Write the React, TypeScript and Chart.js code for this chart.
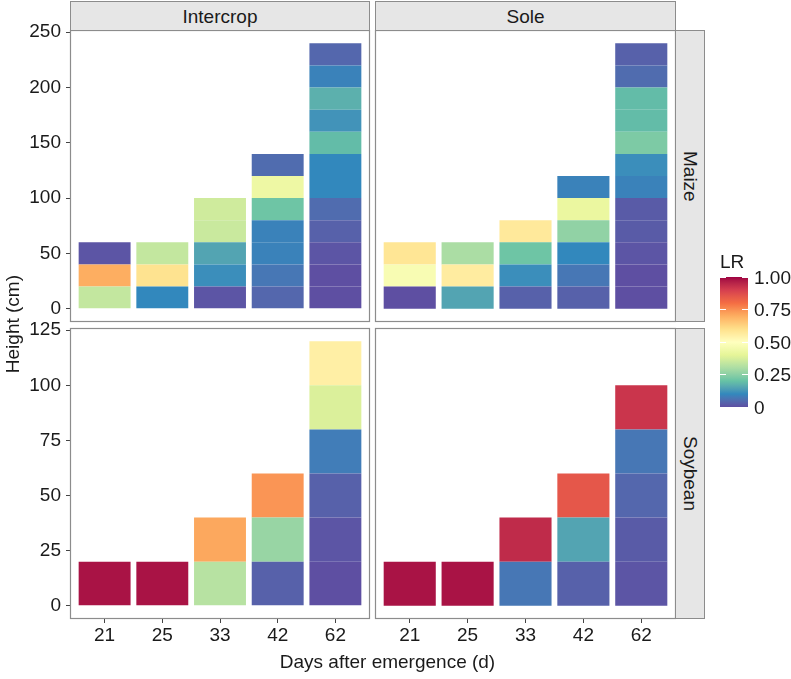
import React, { useEffect, useRef } from 'react';
import { Chart, registerables } from 'chart.js';

Chart.register(...registerables);

// ---------------- data ----------------
const days = ['21', '25', '33', '42', '62'];
const layerHeight = 20; // cm, every tile is one 20-cm canopy layer

// LR of each 20-cm layer, listed from the ground upwards, one list per sampling day
const intercropMaizeLR: number[][] = [
  [0.34, 0.7, 0.01],
  [0.1, 0.59, 0.34],
  [0.01, 0.11, 0.15, 0.35, 0.36],
  [0.04, 0.07, 0.09, 0.09, 0.21, 0.43, 0.05],
  [0.0, 0.0, 0.01, 0.03, 0.05, 0.1, 0.1, 0.19, 0.12, 0.17, 0.09, 0.04],
];
const soleMaizeLR: number[][] = [
  [0.0, 0.47, 0.58],
  [0.15, 0.56, 0.3],
  [0.03, 0.11, 0.21, 0.57],
  [0.03, 0.07, 0.1, 0.26, 0.42, 0.09],
  [0.0, 0.0, 0.01, 0.02, 0.02, 0.09, 0.11, 0.23, 0.19, 0.19, 0.05, 0.03],
];
const intercropSoybeanLR: number[][] = [
  [0.98],
  [0.98],
  [0.32, 0.71],
  [0.03, 0.27, 0.74],
  [0.0, 0.01, 0.03, 0.08, 0.38, 0.55],
];
const soleSoybeanLR: number[][] = [
  [0.98],
  [0.98],
  [0.07, 0.94],
  [0.03, 0.15, 0.85],
  [0.01, 0.02, 0.04, 0.07, 0.92],
];

const maizeTicks = [0, 50, 100, 150, 200, 250];
const soybeanTicks = [0, 25, 50, 75, 100, 125];
const legendBreaks = [0, 0.25, 0.5, 0.75, 1];
const legendLabels = ['0', '0.25', '0.50', '0.75', '1.00'];

// reversed ColorBrewer "Spectral" (LR 0 -> 1)
const spectral = [
  '#5E4FA2', '#3288BD', '#66C2A5', '#ABDDA4', '#E6F598', '#FFFFBF',
  '#FEE08B', '#FDAE61', '#F46D43', '#D53E4F', '#9E0142',
];

// ---------------- colour helpers (Lab interpolation like ggplot) ----------------
const Xn = 0.95047, Yn = 1.0, Zn = 1.08883;
const toLin = (c: number) => {
  const v = c / 255;
  return v <= 0.04045 ? v / 12.92 : Math.pow((v + 0.055) / 1.055, 2.4);
};
const fromLin = (c: number) => {
  const v = c <= 0.0031308 ? 12.92 * c : 1.055 * Math.pow(c, 1 / 2.4) - 0.055;
  return Math.round(Math.min(1, Math.max(0, v)) * 255);
};
function hexToLab(h: string): number[] {
  const r = toLin(parseInt(h.slice(1, 3), 16));
  const g = toLin(parseInt(h.slice(3, 5), 16));
  const b = toLin(parseInt(h.slice(5, 7), 16));
  const X = r * 0.4124564 + g * 0.3575761 + b * 0.1804375;
  const Y = r * 0.2126729 + g * 0.7151522 + b * 0.072175;
  const Z = r * 0.0193339 + g * 0.119192 + b * 0.9503041;
  const f = (t: number) => (t > 216 / 24389 ? Math.cbrt(t) : ((24389 / 27) * t + 16) / 116);
  const fx = f(X / Xn), fy = f(Y / Yn), fz = f(Z / Zn);
  return [116 * fy - 16, 500 * (fx - fy), 200 * (fy - fz)];
}
function labToRgb(L: number, a: number, bb: number): string {
  const fy = (L + 16) / 116;
  const fx = fy + a / 500;
  const fz = fy - bb / 200;
  const k = 24389 / 27;
  const inv = (t: number) => (t * t * t > 216 / 24389 ? t * t * t : (116 * t - 16) / k);
  const X = inv(fx) * Xn;
  const Y = (L > 8 ? fy * fy * fy : L / k) * Yn;
  const Z = inv(fz) * Zn;
  const R = 3.2404542 * X - 1.5371385 * Y - 0.4985314 * Z;
  const G = -0.969266 * X + 1.8760108 * Y + 0.041556 * Z;
  const B = 0.0556434 * X - 0.2040259 * Y + 1.0572252 * Z;
  return `rgb(${fromLin(R)},${fromLin(G)},${fromLin(B)})`;
}
const spectralLab = spectral.map(hexToLab);
function lrColor(v: number): string {
  const n = spectralLab.length - 1;
  const p = Math.min(1, Math.max(0, v)) * n;
  const i = Math.min(n - 1, Math.floor(p));
  const t = p - i;
  const a = spectralLab[i], b = spectralLab[i + 1];
  return labToRgb(a[0] + (b[0] - a[0]) * t, a[1] + (b[1] - a[1]) * t, a[2] + (b[2] - a[2]) * t);
}

// ---------------- layout ----------------
const W = 791;
const H = 679;
const FONT = '"Liberation Sans", Arial, Helvetica, sans-serif';
const FS = 19;
const TEXT = '#1a1a1a';
const LINE = '#8c8c8c';
const STRIP_FILL = '#e6e6e6';

type Rect = { l: number; t: number; r: number; b: number };
const colL = { l: 70, r: 370 };
const colR = { l: 375, r: 676 };
const rowT = { t: 30, b: 322 };
const rowB = { t: 328, b: 619 };
const stripW = 30;

const panelBorder = {
  id: 'panelBorder',
  afterDraw(chart: any) {
    const { ctx, chartArea: a } = chart;
    ctx.save();
    ctx.strokeStyle = LINE;
    ctx.lineWidth = 1.2;
    ctx.strokeRect(a.left + 0.5, a.top + 0.5, a.right - a.left - 1, a.bottom - a.top - 1);
    ctx.restore();
  },
};

function buildConfig(lr: number[][], rowMaxLayers: number, ticks: number[], rect: Rect, showY: boolean, showX: boolean): any {
  const maxLayers = Math.max(...lr.map((c) => c.length));
  const datasets = Array.from({ length: maxLayers }, (_, k) => {
    const pts = lr.flatMap((col, i) => (col.length > k ? [{ x: i + 1, y: layerHeight, lr: col[k] }] : []));
    return {
      label: `layer ${k + 1}`,
      stack: 'tiles',
      data: pts,
      backgroundColor: pts.map((p) => lrColor(p.lr)),
      borderWidth: 0,
      categoryPercentage: 1,
      barPercentage: 0.9,
    };
  });
  const top = rowMaxLayers * layerHeight;
  const xAxisH = 40;
  return {
    type: 'bar',
    data: { datasets },
    plugins: [panelBorder],
    options: {
      animation: false,
      responsive: false,
      maintainAspectRatio: false,
      devicePixelRatio: 1,
      events: [],
      layout: {
        padding: {
          left: showY ? 0 : rect.l,
          top: rect.t,
          right: W - rect.r,
          bottom: H - rect.b - (showX ? xAxisH : 0),
        },
      },
      plugins: { legend: { display: false }, tooltip: { enabled: false }, title: { display: false } },
      scales: {
        x: {
          type: 'linear',
          stacked: true,
          display: showX,
          offset: false,
          min: 1 - 0.6,
          max: days.length + 0.6,
          afterBuildTicks: (s: any) => {
            s.ticks = days.map((_, i) => ({ value: i + 1 }));
          },
          afterFit: (s: any) => {
            if (!showX) return;
            s.height = xAxisH;
            s.paddingLeft = 0;
            s.paddingRight = 0;
          },
          ticks: {
            autoSkip: false,
            maxRotation: 0,
            padding: 1,
            color: TEXT,
            font: { family: FONT, size: FS },
            callback: (v: any) => days[Math.round(v) - 1] ?? '',
          },
          grid: { display: true, offset: false, drawOnChartArea: false, drawTicks: true, tickLength: 4, color: '#444', lineWidth: 1 },
          border: { display: false },
        },
        y: {
          type: 'linear',
          stacked: true,
          display: showY,
          min: -0.05 * top,
          max: 1.05 * top,
          afterBuildTicks: (s: any) => {
            s.ticks = ticks.map((v) => ({ value: v }));
          },
          afterFit: (s: any) => {
            if (!showY) return;
            s.width = rect.l;
            s.paddingTop = 0;
            s.paddingBottom = 0;
          },
          ticks: {
            padding: 5,
            color: TEXT,
            font: { family: FONT, size: FS },
            callback: (v: any) => String(v),
          },
          grid: { display: true, drawOnChartArea: false, drawTicks: true, tickLength: 4, color: '#444', lineWidth: 1 },
          border: { display: false },
        },
      },
    },
  };
}

const abs = (s: React.CSSProperties): React.CSSProperties => ({ position: 'absolute', ...s });

export default function App() {
  const c1 = useRef<HTMLCanvasElement>(null);
  const c2 = useRef<HTMLCanvasElement>(null);
  const c3 = useRef<HTMLCanvasElement>(null);
  const c4 = useRef<HTMLCanvasElement>(null);

  useEffect(() => {
    const maizeMax = Math.max(...intercropMaizeLR.concat(soleMaizeLR).map((c) => c.length));
    const soyMax = Math.max(...intercropSoybeanLR.concat(soleSoybeanLR).map((c) => c.length));
    const specs: [React.RefObject<HTMLCanvasElement>, any][] = [
      [c1, buildConfig(intercropMaizeLR, maizeMax, maizeTicks, { ...colL, ...rowT }, true, false)],
      [c2, buildConfig(soleMaizeLR, maizeMax, maizeTicks, { ...colR, ...rowT }, false, false)],
      [c3, buildConfig(intercropSoybeanLR, soyMax, soybeanTicks, { ...colL, ...rowB }, true, true)],
      [c4, buildConfig(soleSoybeanLR, soyMax, soybeanTicks, { ...colR, ...rowB }, false, true)],
    ];
    const charts = specs.map(([ref, cfg]) => new Chart(ref.current as HTMLCanvasElement, cfg));
    return () => charts.forEach((c) => c.destroy());
  }, []);

  const canvasStyle: React.CSSProperties = abs({ left: 0, top: 0, width: W, height: H });
  const text: React.CSSProperties = { fontFamily: FONT, fontSize: FS, color: TEXT, lineHeight: 1, whiteSpace: 'nowrap' };
  const strip = (s: React.CSSProperties): React.CSSProperties =>
    abs({
      boxSizing: 'border-box',
      border: `1px solid ${LINE}`,
      background: STRIP_FILL,
      display: 'flex',
      alignItems: 'center',
      justifyContent: 'center',
      ...text,
      ...s,
    });

  // legend geometry
  const lgTop = 277;
  const lgH = 130;
  const lgLeft = 720;
  const lgW = 28;
  const gradStops = Array.from({ length: 41 }, (_, i) => `${lrColor(i / 40)} ${(i / 40) * 100}%`).join(', ');
  const yOf = (v: number) => lgTop + lgH - v * lgH;

  return (
    <div style={abs({ left: 0, top: 0, width: W, height: H, background: '#fff', overflow: 'hidden' })}>
      <canvas ref={c1} width={W} height={H} style={canvasStyle} />
      <canvas ref={c2} width={W} height={H} style={canvasStyle} />
      <canvas ref={c3} width={W} height={H} style={canvasStyle} />
      <canvas ref={c4} width={W} height={H} style={canvasStyle} />

      <div style={strip({ left: colL.l, top: 1, width: colL.r - colL.l, height: rowT.t })}>Intercrop</div>
      <div style={strip({ left: colR.l, top: 1, width: colR.r - colR.l, height: rowT.t })}>Sole</div>
      <div style={strip({ left: colR.r - 1, top: rowT.t, width: stripW, height: rowT.b - rowT.t })}>
        <span style={{ writingMode: 'vertical-rl' }}>Maize</span>
      </div>
      <div style={strip({ left: colR.r - 1, top: rowB.t, width: stripW, height: rowB.b - rowB.t })}>
        <span style={{ writingMode: 'vertical-rl' }}>Soybean</span>
      </div>

      <div style={abs({ ...text, left: 0, width: 24, top: rowT.t, height: rowB.b - rowT.t, display: 'flex', alignItems: 'center', justifyContent: 'center' })}>
        <span style={{ writingMode: 'vertical-rl', transform: 'rotate(180deg)' }}>Height (cm)</span>
      </div>
      <div style={abs({ ...text, left: colL.l, width: colR.r - 1 + stripW - colL.l, top: 652, textAlign: 'center' })}>
        Days after emergence (d)
      </div>

      <div style={abs({ ...text, left: lgLeft, top: 252 })}>LR</div>
      <div style={abs({ left: lgLeft, top: lgTop, width: lgW, height: lgH, background: `linear-gradient(to top, ${gradStops})` })} />
      {legendBreaks.map((v, i) => (
        <React.Fragment key={i}>
          <div style={abs({ left: lgLeft, top: yOf(v) - 0.5, width: 5.6, height: 1, background: '#fff' })} />
          <div style={abs({ left: lgLeft + lgW - 5.6, top: yOf(v) - 0.5, width: 5.6, height: 1, background: '#fff' })} />
          <div style={abs({ ...text, left: lgLeft + lgW + 6, top: yOf(v) - FS / 2 })}>{legendLabels[i]}</div>
        </React.Fragment>
      ))}
    </div>
  );
}
